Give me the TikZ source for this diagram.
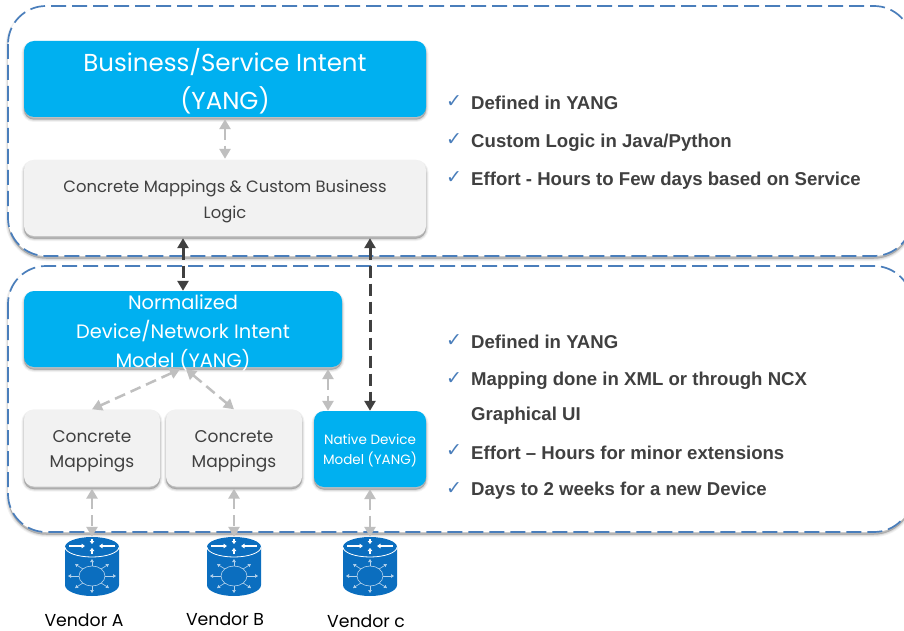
\documentclass[tikz,border=0pt]{standalone}
\usepackage{fontspec}
\setmainfont{Poppins}
\newfontfamily\bulletfont{Liberation Sans}[BoldFont={Liberation Sans Bold}]
\newfontfamily\checkfont{DejaVu Sans}
\usetikzlibrary{arrows.meta}
\definecolor{cyanbox}{HTML}{00B0F0}
\definecolor{greybox}{HTML}{F2F2F2}
\definecolor{dashblue}{HTML}{4A7EBB}
\definecolor{inktext}{HTML}{404040}
\definecolor{lightarrow}{HTML}{BFBFBF}
\definecolor{iconblue}{HTML}{0B6EBF}
\newcommand{\fsz}[2]{\fontsize{#1pt}{#2pt}\selectfont}
\tikzset{
  softshadow/.style={
    preaction={fill=black,draw=black,solid,fill opacity=.05,draw opacity=.05,line width=5pt,transform canvas={yshift=-2.5pt}},
    preaction={fill=black,draw=black,solid,fill opacity=.07,draw opacity=.07,line width=3pt,transform canvas={yshift=-2.5pt}},
    preaction={fill=black,draw=black,solid,fill opacity=.09,draw opacity=.09,line width=1pt,transform canvas={yshift=-2.5pt}}},
  boxbase/.style={rounded corners=10pt,inner sep=0pt,align=center,softshadow},
  cyanblock/.style={boxbase,fill=cyanbox},
  greyblock/.style={boxbase,fill=greybox},
  cyanlabel/.style={text=white,align=center,inner sep=0pt},
  greylabel/.style={text=inktext,align=center,inner sep=0pt},
  zone/.style={draw=dashblue,line width=1.7pt,dash pattern=on 15pt off 6pt,fill=white,rounded corners=38pt,inner sep=0pt,softshadow},
  lightlink/.style={draw=lightarrow,line width=2.5pt,dash pattern=on 11pt off 6pt,{Triangle[length=10pt,width=11pt]}-{Triangle[length=10pt,width=11pt]}},
  darklink/.style={draw=inktext,line width=3pt,dash pattern=on 12pt off 6pt,{Triangle[length=10pt,width=11pt]}-{Triangle[length=10pt,width=11pt]}},
  bullet/.style={anchor=west,inner sep=0pt,text=inktext,font=\bulletfont\bfseries\fsz{18.6}{22}},
  tick/.style={anchor=center,inner sep=0pt,text=dashblue,font=\checkfont\fsz{19}{19}},
  vendor/.style={inner sep=0pt,text=black,font=\fsz{17.3}{20}},
  routericon/.pic={
    \fill[iconblue] (-27,-19) -- (-27,19) arc[x radius=27,y radius=11,start angle=180,end angle=0] -- (27,-19) arc[x radius=27,y radius=10,start angle=0,end angle=-180] -- cycle;
    \draw[white,line width=.8pt] (-27,-19) arc[x radius=27,y radius=10,start angle=180,end angle=0];
    \draw[white,line width=1.4pt,-{Triangle[length=3.5pt,width=4.5pt]}] (-23,-20) -- (-7,-20);
    \draw[white,line width=1.4pt,-{Triangle[length=3.5pt,width=4.5pt]}] (23,-20) -- (7,-20);
    \draw[white,line width=1.4pt,-{Triangle[length=3pt,width=4.5pt]}] (0,-27) -- (0,-22);
    \draw[white,line width=1.4pt,-{Triangle[length=3pt,width=4.5pt]}] (0,-12) -- (0,-18);
    \draw[white!70!iconblue,line width=.6pt] (0,10) ellipse[x radius=13,y radius=10];
    \foreach \a in {0,45,...,315}{
      \draw[white!70!iconblue,line width=.6pt,-{Triangle[length=3pt,width=3.5pt]}]
        ({13*cos(\a)},{10+10*sin(\a)}) -- ({24*cos(\a)},{10+17*sin(\a)});
    }
  }
}
\begin{document}
\begin{tikzpicture}[x=1pt,y=-1pt]
\useasboundingbox (0,0) rectangle (904,631);
\clip (0,0) rectangle (904,631);
% zones
\path[zone] (8,6) rectangle (912,256);
\path[zone] (8,266) rectangle (912,532);
% blocks
\node[cyanblock,minimum width=402pt,minimum height=76pt] (intent) at (225,79) {};
\node[cyanlabel,font=\fsz{24.5}{38}] (intenttext) at (225,81) {Business/Service Intent\\(YANG)};
\node[greyblock,minimum width=402pt,minimum height=76pt] (logic) at (225,198) {};
\node[greylabel,font=\fsz{16.4}{26}] (logictext) at (225,201) {Concrete Mappings \& Custom Business\\Logic};
\node[cyanblock,minimum width=318pt,minimum height=76pt] (norm) at (183,329) {};
\node[cyanlabel,font=\fsz{19.4}{29}] (normtext) at (183,333) {Normalized\\Device/Network Intent\\Model (YANG)};
\node[greyblock,minimum width=136pt,minimum height=77pt] (mapa) at (92,448) {};
\node[greylabel,font=\fsz{17}{25}] (mapatext) at (92,451) {Concrete\\Mappings};
\node[greyblock,minimum width=136pt,minimum height=77pt] (mapb) at (234,448) {};
\node[greylabel,font=\fsz{17}{25}] (mapbtext) at (234,451) {Concrete\\Mappings};
\node[cyanblock,minimum width=112pt,minimum height=76pt] (native) at (370,449) {};
\node[cyanlabel,font=\fsz{13.5}{20}] (nativetext) at (370,451) {Native Device\\Model (YANG)};
% vendor icons
\node[minimum width=54pt,minimum height=60pt,inner sep=0pt] (ra) at (92,566) {};
\node[minimum width=54pt,minimum height=60pt,inner sep=0pt] (rb) at (234,566) {};
\node[minimum width=54pt,minimum height=60pt,inner sep=0pt] (rc) at (370,566) {};
\pic at (ra.center) {routericon};
\pic at (rb.center) {routericon};
\pic at (rc.center) {routericon};
\node[vendor] (va) at (84,620) {Vendor A};
\node[vendor] (vb) at (225,619) {Vendor B};
\node[vendor] (vc) at (366,621) {Vendor c};
% connectors
\draw[lightlink] ([yshift=-2pt]intent.south) -- ([yshift=1pt]logic.north);
\draw[darklink] ([xshift=-42pt,yshift=-2pt]logic.south) -- (norm.north);
\draw[darklink] ([xshift=145pt,yshift=-2pt]logic.south) -- (native.north);
\draw[lightlink] ([xshift=145pt,yshift=-2pt]norm.south) -- ([xshift=-42pt]native.north);
\draw[lightlink] ([xshift=-3pt,yshift=-2pt]norm.south) -- (mapa.north);
\draw[lightlink] ([xshift=3pt,yshift=-2pt]norm.south) -- (mapb.north);
\draw[lightlink] ([yshift=-2pt]mapa.south) -- ([yshift=-1pt]ra.north);
\draw[lightlink] ([yshift=-2pt]mapb.south) -- ([yshift=-1pt]rb.north);
\draw[lightlink] ([yshift=-2pt]native.south) -- ([yshift=-1pt]rc.north);
% bullets
\node[tick] (t1) at (454,102) {✓}; \node[bullet] (b1) at (471,103) {Defined in YANG};
\node[tick] (t2) at (454,140) {✓}; \node[bullet] (b2) at (471,142.5) {Custom Logic in Java/Python};
\node[tick] (t3) at (454,178) {✓}; \node[bullet] (b3) at (471,180.5) {Effort - Hours to Few days based on Service};
\node[tick] (t4) at (454,341) {✓}; \node[bullet] (b4) at (471,342) {Defined in YANG};
\node[tick] (t5) at (454,379) {✓}; \node[bullet] (b5) at (471,381) {Mapping done in XML or through NCX};
\node[bullet] (b5b) at (471,415.5) {Graphical UI};
\node[tick] (t6) at (454,451) {✓}; \node[bullet] (b6) at (471,452.5) {Effort – Hours for minor extensions};
\node[tick] (t7) at (454,489) {✓}; \node[bullet] (b7) at (471,491) {Days to 2 weeks for a new Device};
\end{tikzpicture}
\end{document}
